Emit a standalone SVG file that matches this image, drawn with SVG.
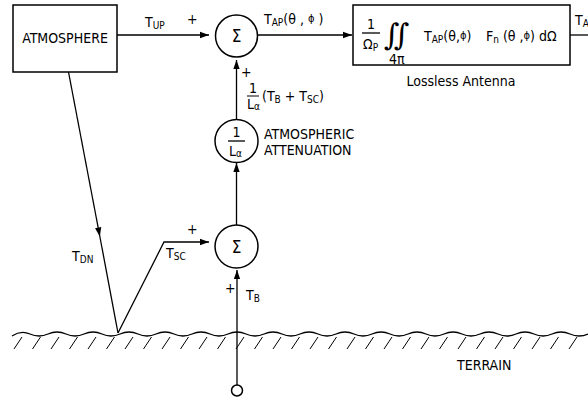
<svg xmlns="http://www.w3.org/2000/svg" width="588" height="400" viewBox="0 0 588 400">
<defs>
<marker id="ah" viewBox="0 0 10 10" refX="10" refY="5" markerWidth="10" markerHeight="9" markerUnits="userSpaceOnUse" orient="auto"><path d="M0,1.5 L10,5 L0,8.5 Z" fill="#000"/></marker>
<marker id="ahm" viewBox="0 0 10 10" refX="5" refY="5" markerWidth="10" markerHeight="9" markerUnits="userSpaceOnUse" orient="auto"><path d="M0,1.5 L10,5 L0,8.5 Z" fill="#000"/></marker>
<style>
.ln{stroke:#000;stroke-width:1.3;fill:none}
.bx{stroke:#000;stroke-width:1.5;fill:#fff}
text{font-family:"DejaVu Sans Condensed","Liberation Sans",sans-serif;fill:#000}
.t{font-size:14px}
.s{font-size:10px}
.ph{font-size:11px}
.lb{font-size:14px}
.sg{font-size:17px;text-anchor:middle}
</style>
</defs>
<rect width="588" height="400" fill="#fff"/>

<g id="connectors">
<line class="ln" x1="117" y1="35" x2="209" y2="35" marker-end="url(#ah)"/>
<line class="ln" x1="258" y1="35" x2="352" y2="35" marker-end="url(#ah)"/>
<line class="ln" x1="570" y1="35" x2="588" y2="35"/>
<line class="ln" x1="236.5" y1="120" x2="236.5" y2="60" marker-end="url(#ah)"/>
<line class="ln" x1="236.5" y1="225" x2="236.5" y2="163" marker-end="url(#ah)"/>
<line class="ln" x1="237" y1="385" x2="237" y2="270" marker-end="url(#ah)"/>
<path class="ln" d="M68.5,72 L99,232" marker-end="url(#ahm)"/>
<path class="ln" d="M99,232 L118,333"/>
<path class="ln" d="M118,333 L164,242 L209,242" marker-end="url(#ah)"/>
</g>

<g id="atmosphere">
<rect class="bx" x="13" y="5" width="104" height="67"/>
<text class="lb" x="65" y="43" text-anchor="middle">ATMOSPHERE</text>
</g>

<g id="sum-top">
<circle class="bx" cx="236.5" cy="36" r="21"/>
<text class="sg" x="236.5" y="42">Σ</text>
</g>

<g id="antenna">
<rect class="bx" x="353" y="5" width="217" height="60"/>
<text class="t" x="371" y="29" text-anchor="middle">1</text>
<line class="ln" x1="362" y1="33" x2="380" y2="33"/>
<text class="t" x="363" y="49">Ω<tspan class="s" dy="2">P</tspan></text>
<text x="384" y="45" style="font-size:30px;font-style:italic;font-family:'DejaVu Serif',serif">∬</text>
<text class="t" x="389" y="64">4π</text>
<text class="t" x="424" y="41">T<tspan class="s" dy="2">AP</tspan><tspan dy="-2">(θ,</tspan><tspan class="ph" dy="-2">ϕ</tspan><tspan dy="2">)</tspan></text>
<text class="t" x="486" y="41">F<tspan class="s" dy="2">n</tspan><tspan dy="-2"> (θ ,</tspan><tspan class="ph" dy="-2">ϕ</tspan><tspan dy="2">)  dΩ</tspan></text>
<text class="lb" x="461" y="86" text-anchor="middle">Lossless Antenna</text>
</g>

<g id="attenuation">
<circle class="bx" cx="236.5" cy="141" r="21.5"/>
<text class="t" x="236.5" y="137" text-anchor="middle">1</text>
<line class="ln" x1="228" y1="141" x2="245" y2="141"/>
<text class="t" x="229" y="156">L<tspan class="s" dy="1">α</tspan></text>
<text class="lb" x="264" y="139">ATMOSPHERIC</text>
<text class="lb" x="264" y="155">ATTENUATION</text>
</g>

<g id="sum-bottom">
<circle class="bx" cx="236.5" cy="246.5" r="21.5"/>
<text class="sg" x="236.5" y="252.5">Σ</text>
</g>

<g id="source">
<circle class="bx" cx="237" cy="390.5" r="5.5"/>
</g>

<g id="terrain">
<path class="ln" d="M12,336 q9,-6 18,-2 t18,0 t18,0 t18,0 t18,0 t18,0 t18,0 t18,0 t18,0 t18,0 t18,0 t18,0 t18,0 t18,0 t18,0 t18,0 t18,0 t18,0 t18,0 t18,0 t18,0 t18,0 t18,0 t18,0 t18,0 t18,0 t18,0 t18,0 t18,0 t18,0 t18,0 t18,0"/>
<path class="ln" style="stroke-width:1" d="M14,349 l8,-12 M32.5,349 l8,-12 M51,349 l8,-12 M69.5,349 l8,-12 M88,349 l8,-12 M106.5,349 l8,-12 M125,349 l8,-12 M143.5,349 l8,-12 M162,349 l8,-12 M180.5,349 l8,-12 M199,349 l8,-12 M217.5,349 l8,-12 M236,349 l8,-12 M254.5,349 l8,-12 M273,349 l8,-12 M291.5,349 l8,-12 M310,349 l8,-12 M328.5,349 l8,-12 M347,349 l8,-12 M365.5,349 l8,-12 M384,349 l8,-12 M402.5,349 l8,-12 M421,349 l8,-12 M439.5,349 l8,-12 M458,349 l8,-12 M476.5,349 l8,-12 M495,349 l8,-12 M513.5,349 l8,-12 M532,349 l8,-12 M550.5,349 l8,-12 M569,349 l8,-12"/>
<text class="lb" x="457" y="370">TERRAIN</text>
</g>

<g id="labels">
<text class="t" x="145" y="27">T<tspan class="s" dy="2">UP</tspan></text>
<text class="t" x="187" y="24">+</text>
<text class="t" x="264" y="24">T<tspan class="s" dy="2">AP</tspan><tspan dy="-2">(θ , </tspan><tspan class="ph" dy="-2">ϕ</tspan><tspan dy="2"> )</tspan></text>
<text class="t" x="575" y="25">T<tspan class="s" dy="2">A</tspan></text>
<text class="t" x="241" y="77">+</text>
<text class="t" x="253" y="93" text-anchor="middle">1</text>
<line class="ln" style="stroke-width:1" x1="247" y1="96" x2="259" y2="96"/>
<text class="t" x="247" y="109">L<tspan class="s" dy="1">α</tspan></text>
<text class="t" x="262" y="101">(T<tspan class="s" dy="2">B</tspan><tspan dy="-2"> + T</tspan><tspan class="s" dy="2">SC</tspan><tspan dy="-2">)</tspan></text>
<text class="t" x="72" y="261">T<tspan class="s" dy="2">DN</tspan></text>
<text class="t" x="166" y="258">T<tspan class="s" dy="2">SC</tspan></text>
<text class="t" x="187" y="234">+</text>
<text class="t" x="225" y="293">+</text>
<text class="t" x="246" y="300">T<tspan class="s" dy="2">B</tspan></text>
</g>
</svg>
